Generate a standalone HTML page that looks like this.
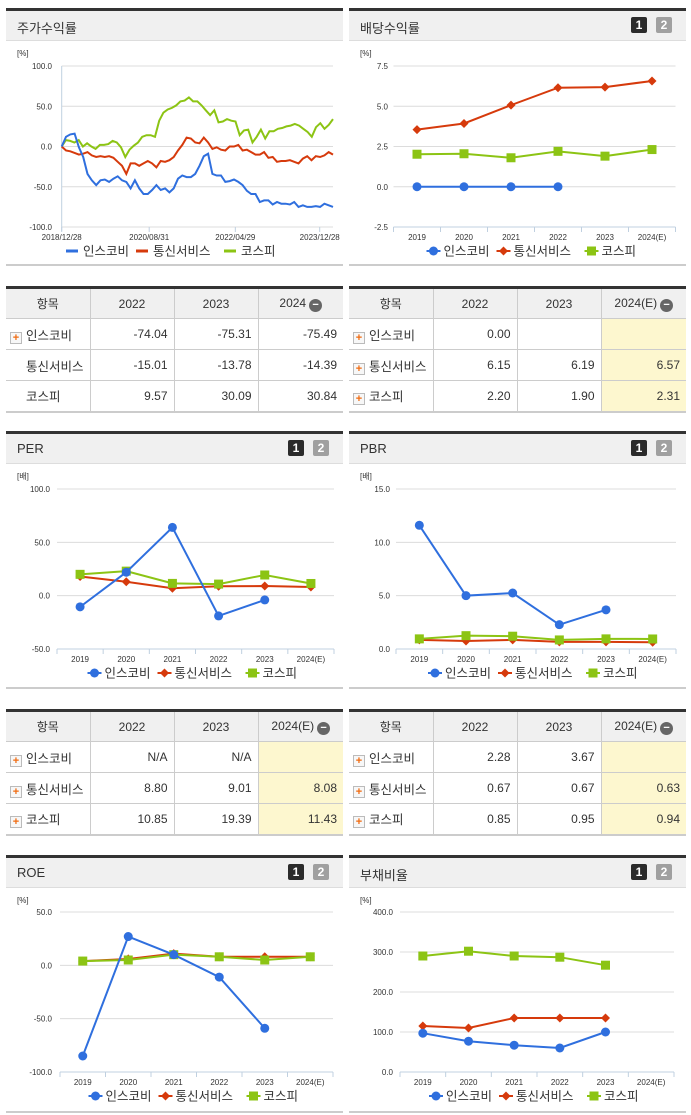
<!DOCTYPE html>
<html><head><meta charset="utf-8">
<style>
*{margin:0;padding:0;box-sizing:border-box}
body{width:691px;height:1115px;background:#fff;position:relative;overflow:hidden;font-family:"Liberation Sans","Noto Sans CJK KR",sans-serif;color:#333}
.panel{position:absolute;width:337px;height:258px;border-top:3px solid #333;border-bottom:2px solid #ccc}
.phead{position:absolute;left:0;top:0;width:100%;height:30px;background:#f0f0f0;border-bottom:1px solid #ddd}
.ptitle{position:absolute;left:11px;top:7px;font-size:13px;color:#333}
.btn{position:absolute;top:6px;width:16px;height:16px;font-size:12px;font-weight:bold;color:#fff;text-align:center;line-height:16px;border-radius:2px}
.b1{left:282px;background:#2b2b2b}.b2{left:307px;background:#a0a0a0}
svg{position:absolute;left:0;top:0}
table{position:absolute;width:337px;border-collapse:collapse;border-top:3px solid #333;border-bottom:2px solid #ccc;font-size:12px}
th{height:31px;background:#f0f0f0;font-weight:normal;font-size:12px;border:1px solid #ccc;border-top:none;text-align:center}
td{height:31px;border:1px solid #ccc;text-align:right;padding-right:6px}
th:first-child,td:first-child{border-left:none}th:last-child,td:last-child{border-right:none}
td.nm{text-align:left;padding-left:4px;font-size:12.5px}
.plus{display:inline-block;width:12px;height:12px;border:1px solid #bbb;background:#f7f7f7;color:#f06a0f;font-size:11px;line-height:10px;text-align:center;font-weight:bold;margin-right:4px;vertical-align:-1px}
.sp{display:inline-block;width:16px}
.y{background:#fdf7cf}
.minus{display:inline-block;width:13px;height:13px;border-radius:50%;background:#666;color:#fff;font-size:11px;line-height:12px;text-align:center;vertical-align:-1px;margin-left:3px;font-weight:bold}
</style></head><body>

<div class="panel" style="left:6px;top:8px"><div class="phead"><span class="ptitle">주가수익률</span></div><svg id="c0" width="337" height="255"></svg></div>
<div class="panel" style="left:349px;top:8px"><div class="phead"><span class="ptitle">배당수익률</span><span class="btn b1">1</span><span class="btn b2">2</span></div><svg id="c1" width="337" height="255"></svg></div>

<table style="left:6px;top:286px">
<tr><th style="width:84px">항목</th><th style="width:84px">2022</th><th style="width:84px">2023</th><th>2024<span class="minus">−</span></th></tr>
<tr><td class="nm"><span class="plus">+</span>인스코비</td><td>-74.04</td><td>-75.31</td><td>-75.49</td></tr>
<tr><td class="nm"><span class="sp"></span>통신서비스</td><td>-15.01</td><td>-13.78</td><td>-14.39</td></tr>
<tr><td class="nm"><span class="sp"></span>코스피</td><td>9.57</td><td>30.09</td><td>30.84</td></tr></table>

<table style="left:349px;top:286px">
<tr><th style="width:84px">항목</th><th style="width:84px">2022</th><th style="width:84px">2023</th><th>2024(E)<span class="minus">−</span></th></tr>
<tr><td class="nm"><span class="plus">+</span>인스코비</td><td>0.00</td><td></td><td class="y"></td></tr>
<tr><td class="nm"><span class="plus">+</span>통신서비스</td><td>6.15</td><td>6.19</td><td class="y">6.57</td></tr>
<tr><td class="nm"><span class="plus">+</span>코스피</td><td>2.20</td><td>1.90</td><td class="y">2.31</td></tr></table>

<div class="panel" style="left:6px;top:431px"><div class="phead"><span class="ptitle">PER</span><span class="btn b1">1</span><span class="btn b2">2</span></div><svg id="c2" width="337" height="255"></svg></div>
<div class="panel" style="left:349px;top:431px"><div class="phead"><span class="ptitle">PBR</span><span class="btn b1">1</span><span class="btn b2">2</span></div><svg id="c3" width="337" height="255"></svg></div>

<table style="left:6px;top:709px">
<tr><th style="width:84px">항목</th><th style="width:84px">2022</th><th style="width:84px">2023</th><th>2024(E)<span class="minus">−</span></th></tr>
<tr><td class="nm"><span class="plus">+</span>인스코비</td><td>N/A</td><td>N/A</td><td class="y"></td></tr>
<tr><td class="nm"><span class="plus">+</span>통신서비스</td><td>8.80</td><td>9.01</td><td class="y">8.08</td></tr>
<tr><td class="nm"><span class="plus">+</span>코스피</td><td>10.85</td><td>19.39</td><td class="y">11.43</td></tr></table>

<table style="left:349px;top:709px">
<tr><th style="width:84px">항목</th><th style="width:84px">2022</th><th style="width:84px">2023</th><th>2024(E)<span class="minus">−</span></th></tr>
<tr><td class="nm"><span class="plus">+</span>인스코비</td><td>2.28</td><td>3.67</td><td class="y"></td></tr>
<tr><td class="nm"><span class="plus">+</span>통신서비스</td><td>0.67</td><td>0.67</td><td class="y">0.63</td></tr>
<tr><td class="nm"><span class="plus">+</span>코스피</td><td>0.85</td><td>0.95</td><td class="y">0.94</td></tr></table>

<div class="panel" style="left:6px;top:855px"><div class="phead"><span class="ptitle">ROE</span><span class="btn b1">1</span><span class="btn b2">2</span></div><svg id="c4" width="337" height="255"></svg></div>
<div class="panel" style="left:349px;top:855px"><div class="phead"><span class="ptitle">부채비율</span><span class="btn b1">1</span><span class="btn b2">2</span></div><svg id="c5" width="337" height="255"></svg></div>

<script>
const seriesNames=["인스코비","통신서비스","코스피"];
const colors=["#2f6fde","#d63a0c","#8cc414"];
const years=["2019","2020","2021","2022","2023","2024(E)"];
// stock return (weekly-ish samples)
const stockBlue=[0,12,15,16,-1,-13,-34,-42,-48,-42,-41,-44,-40,-37,-42,-44,-52,-42,-52,-59,-59,-54,-48,-54,-52,-57,-52,-40,-36,-38,-38,-34,-24,-12,-9,-34,-36,-36,-44,-43,-41,-44,-48,-55,-59,-59,-69,-67,-67,-72,-69,-71,-71,-72,-69,-75,-73,-75,-75,-74,-75,-71,-73,-75];
const stockRed=[0,-5,-6,-8,-10,-9,-7,-11,-13,-12,-13,-12,-14,-19,-24,-34,-21,-21,-24,-21,-18,-21,-26,-18,-19,-17,-13,-5,2,11,10,5,4,11,5,-3,-1,-4,-5,0,0,2,-5,-4,-7,-10,-10,-7,-14,-13,-19,-18,-18,-17,-19,-21,-15,-12,-17,-12,-13,-11,-7,-10];
const stockGreen=[0,8,7,5,8,0,4,0,-3,2,2,3,7,5,-1,-13,-4,1,5,12,14,14,12,32,42,46,48,51,56,57,61,56,56,51,45,39,45,30,31,34,32,31,14,20,21,5,12,21,10,19,19,22,23,25,26,28,26,22,18,12,24,29,22,27,34];
const stockTicks=["2018/12/28","2020/08/31","2022/04/29","2023/12/28"];
const stockTickFrac=[0,0.3225,0.64,0.951];
const stockY=[100,50,0,-50,-100];
// dividend
const divBlue=[0,0,0,0,null,null];
const divRed=[3.55,3.93,5.07,6.15,6.19,6.57];
const divGreen=[2.02,2.05,1.8,2.2,1.9,2.31];
const divY=[7.5,5,2.5,0,-2.5];
// PER
const perBlue=[-10.5,22,64,-19,-4,null];
const perRed=[18,13,7,8.8,9.01,8.08];
const perGreen=[20,23,11.5,10.85,19.39,11.43];
const perY=[100,50,0,-50];
// PBR
const pbrBlue=[11.6,5.0,5.25,2.28,3.67,null];
const pbrRed=[0.85,0.75,0.85,0.67,0.67,0.63];
const pbrGreen=[0.95,1.25,1.2,0.85,0.95,0.94];
const pbrY=[15,10,5,0];
// ROE
const roeBlue=[-85,27,10,-11,-59,null];
const roeRed=[4,6,11,8,8,8];
const roeGreen=[4,5,10,8,5,8];
const roeY=[50,0,-50,-100];
// Debt ratio
const debtBlue=[97,77,67,60,100,null];
const debtRed=[115,110,135,135,135,null];
const debtGreen=[290,302,290,287,267,null];
const debtY=[400,300,200,100,0];

const NS="http://www.w3.org/2000/svg";
function mk(svg,tag,attrs){const e=document.createElementNS(NS,tag);for(const k in attrs)e.setAttribute(k,attrs[k]);svg.appendChild(e);return e;}
function txt(svg,x,y,s,size,anchor){const t=mk(svg,"text",{x:x,y:y,"font-size":size,"text-anchor":anchor||"start",fill:"#333","font-family":"Liberation Sans, Noto Sans CJK KR, sans-serif"});t.textContent=s;return t;}
function marker(svg,k,x,y){
  let m;
  if(k===0)m=mk(svg,"circle",{cx:x,cy:y,r:4.5,fill:colors[0]});
  else if(k===1)m=mk(svg,"path",{d:`M${x} ${y-4.5}L${x+4.5} ${y}L${x} ${y+4.5}L${x-4.5} ${y}Z`,fill:colors[1]});
  else m=mk(svg,"rect",{x:x-4.5,y:y-4.5,width:9,height:9,fill:colors[2]});
  return m;
}
function legend(svg,cx,y,lineStyle){
  const widths=[70,88,58];const total=216;let x=cx-total/2;
  for(let k=0;k<3;k++){
    if(lineStyle){const l=mk(svg,"line",{x1:x,y1:y,x2:x+12,y2:y,stroke:colors[k],"stroke-width":3});}
    else{mk(svg,"line",{x1:x,y1:y,x2:x+14,y2:y,stroke:colors[k],"stroke-width":2});marker(svg,k,x+7,y);}
    const t=txt(svg,x+17,y+4.5,seriesNames[k],12.5);
    
    
    x+=widths[k];
  }
}
// y-scale: top px (value ymax) to bottom px (ymin)
function catChart(id,unit,ticks,data,p){
  const svg=document.getElementById(id);
  const ymax=ticks[0],ymin=ticks[ticks.length-1];
  const Y=v=>p.top+(ymax-v)/(ymax-ymin)*(p.bot-p.top);
  const band=(p.right-p.left)/6;const X=i=>p.left+band*(i+0.5);
  txt(svg,11,45,unit,8);
  ticks.forEach(v=>{
    const g=mk(svg,"line",{x1:p.left,x2:p.right,y1:Y(v),y2:Y(v),stroke:"#dcdcdc","stroke-width":1});
    
    const l=txt(svg,p.lx,Y(v)+3,v.toFixed(1),8,"end");
    
  });
  mk(svg,"line",{x1:p.left,x2:p.right,y1:p.bot,y2:p.bot,stroke:"#c0d0e0","stroke-width":1});
  for(let i=0;i<=6;i++)mk(svg,"line",{x1:p.left+band*i,x2:p.left+band*i,y1:p.bot,y2:p.bot+5,stroke:"#c0d0e0"});
  years.forEach((yr,i)=>{const t=txt(svg,X(i),p.bot+13,yr,8,"middle");});
  [1,2,0].forEach(k=>{
    const arr=data[k];let d="";
    arr.forEach((v,i)=>{if(v==null)return;d+=(d?"L":"M")+X(i)+" "+Y(v);});
    const path=mk(svg,"path",{d:d,fill:"none",stroke:colors[k],"stroke-width":2});
    
    arr.forEach((v,i)=>{if(v==null)return;const m=marker(svg,k,X(i),Y(v));});
  });
  legend(svg,(p.left+p.right)/2,p.bot+24,false);
}
// stock chart
(function(){
  const svg=document.getElementById("c0");
  const p={left:55.7,right:327,top:55,bot:216,lx:46};
  const ymax=100,ymin=-100;const Y=v=>p.top+(ymax-v)/(ymax-ymin)*(p.bot-p.top);
  const Xf=f=>p.left+f*(p.right-p.left);
  txt(svg,11,45,"[%]",8);
  stockY.forEach(v=>{
    const g=mk(svg,"line",{x1:p.left,x2:p.right,y1:Y(v),y2:Y(v),stroke:"#dcdcdc"});
    
    const l=txt(svg,p.lx,Y(v)+3,v.toFixed(1),8,"end");
    
  });
  mk(svg,"line",{x1:p.left,x2:p.left,y1:p.top,y2:p.bot+4,stroke:"#c0d0e0"});
  stockTicks.forEach((s,i)=>{const x=Xf(stockTickFrac[i]);mk(svg,"line",{x1:x,x2:x,y1:p.bot,y2:p.bot+5,stroke:"#c0d0e0"});
    const t=txt(svg,x,p.bot+13,s,8,"middle");});
  [[stockGreen,2],[stockRed,1],[stockBlue,0]].forEach(([arr,k])=>{
    const n=arr.length-1;let d="";
    arr.forEach((v,i)=>{d+=(i?"L":"M")+Xf(i/n).toFixed(1)+" "+Y(v).toFixed(1);});
    const path=mk(svg,"path",{d:d,fill:"none",stroke:colors[k],"stroke-width":2});
    
  });
  legend(svg,168,p.bot+24,true);
})();
catChart("c1","[%]",divY,[divBlue,divRed,divGreen],{left:44.5,right:326.5,top:55,bot:216,lx:39});
catChart("c2","[배]",perY,[perBlue,perRed,perGreen],{left:51,right:328,top:55,bot:215,lx:44});
catChart("c3","[배]",pbrY,[pbrBlue,pbrRed,pbrGreen],{left:47,right:327,top:55,bot:215,lx:41});
catChart("c4","[%]",roeY,[roeBlue,roeRed,roeGreen],{left:54,right:327,top:54,bot:214,lx:46});
catChart("c5","[%]",debtY,[debtBlue,debtRed,debtGreen],{left:51,right:325,top:54,bot:214,lx:44});
</script>
</body></html>
